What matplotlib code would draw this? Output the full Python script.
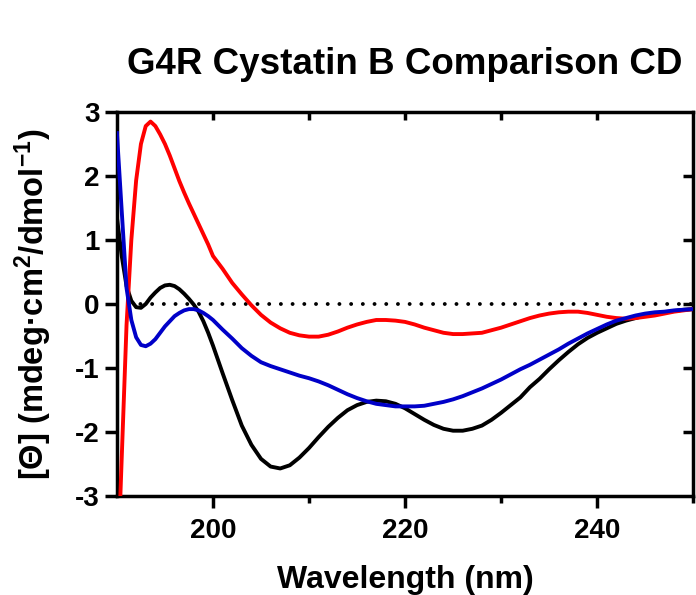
import numpy as np
import matplotlib
matplotlib.use("Agg")
import matplotlib.pyplot as plt

plt.rcParams['font.family'] = ['Liberation Sans', 'DejaVu Sans']
plt.rcParams['font.weight'] = 'bold'
plt.rcParams['axes.unicode_minus'] = False
plt.rcParams['mathtext.fontset'] = 'custom'
plt.rcParams['mathtext.rm'] = 'Liberation Sans:bold'
plt.rcParams['mathtext.bf'] = 'Liberation Sans:bold'
plt.rcParams['mathtext.default'] = 'rm'

# Wavelength grid (nm): half-nm steps in the far-UV, 1 nm afterwards
wavelength = [190.0, 190.5, 191.0, 191.5, 192.0, 192.5, 193.0, 193.5, 194.0, 194.5,
              195.0, 195.5, 196.0, 196.5, 197.0, 197.5, 198.0, 198.5, 199.0, 199.5,
              200, 201, 202, 203, 204, 205, 206, 207, 208, 209,
              210, 211, 212, 213, 214, 215, 216, 217, 218, 219,
              220, 221, 222, 223, 224, 225, 226, 227, 228, 229,
              230, 231, 232, 233, 234, 235, 236, 237, 238, 239,
              240, 241, 242, 243, 244, 245, 246, 247, 248, 249, 250]

ellip_red = [-4.5, -2.4, -0.33, 1.0, 1.93, 2.5, 2.78, 2.85, 2.78, 2.65,
             2.5, 2.32, 2.12, 1.92, 1.74, 1.57, 1.41, 1.25, 1.09, 0.93,
             0.75, 0.55, 0.33, 0.15, -0.02, -0.17, -0.29, -0.38, -0.45, -0.49,
             -0.51, -0.51, -0.48, -0.43, -0.37, -0.32, -0.28, -0.25, -0.25, -0.26,
             -0.28, -0.32, -0.37, -0.41, -0.45, -0.47, -0.47, -0.46, -0.45, -0.41,
             -0.37, -0.32, -0.27, -0.22, -0.18, -0.15, -0.13, -0.12, -0.12, -0.14,
             -0.17, -0.20, -0.22, -0.23, -0.22, -0.20, -0.18, -0.15, -0.12, -0.10, -0.08]

ellip_black = [1.35, 0.75, 0.28, 0.05, -0.05, -0.06, 0.0, 0.1, 0.18, 0.25,
               0.29, 0.30, 0.28, 0.23, 0.16, 0.08, -0.01, -0.12, -0.27, -0.45,
               -0.65, -1.08, -1.5, -1.9, -2.2, -2.42, -2.54, -2.57, -2.52, -2.4,
               -2.25, -2.08, -1.92, -1.78, -1.66, -1.58, -1.53, -1.51, -1.52, -1.56,
               -1.63, -1.72, -1.81, -1.89, -1.95, -1.98, -1.98, -1.95, -1.9, -1.81,
               -1.7, -1.58, -1.46, -1.3, -1.17, -1.02, -0.88, -0.75, -0.63, -0.53,
               -0.45, -0.38, -0.31, -0.26, -0.22, -0.18, -0.15, -0.13, -0.11, -0.09, -0.08]

ellip_blue = [2.67, 1.45, 0.25, -0.25, -0.52, -0.64, -0.66, -0.62, -0.55, -0.45,
              -0.35, -0.27, -0.19, -0.14, -0.10, -0.08, -0.08, -0.10, -0.14, -0.19,
              -0.25, -0.40, -0.54, -0.69, -0.81, -0.91, -0.97, -1.02, -1.07, -1.12,
              -1.16, -1.21, -1.27, -1.34, -1.41, -1.47, -1.52, -1.56, -1.58, -1.60,
              -1.60, -1.60, -1.59, -1.56, -1.53, -1.49, -1.44, -1.38, -1.32, -1.25,
              -1.18, -1.10, -1.02, -0.95, -0.87, -0.79, -0.71, -0.62, -0.54, -0.46,
              -0.39, -0.32, -0.26, -0.22, -0.18, -0.15, -0.13, -0.12, -0.10, -0.09, -0.08]

x_major = [200, 220, 240]
x_minor = [210, 230, 250]
y_ticks = [-3, -2, -1, 0, 1, 2, 3]

fig = plt.figure(figsize=(6.96, 5.95), dpi=100)
ax = fig.add_axes([0.168, 0.1664, 0.828, 0.6454])

lw = 2.8
ax.axhline(0, color='black', lw=2.8, dashes=(0.01, 3.0), dash_capstyle='round', zorder=1)
ax.plot(wavelength, ellip_black, color='black', lw=lw, zorder=2,
        solid_joinstyle='round')
ax.plot(wavelength, ellip_red, color='#ff0000', lw=lw, zorder=3,
        solid_joinstyle='round')
ax.plot(wavelength, ellip_blue, color='#0000c8', lw=lw, zorder=4,
        solid_joinstyle='round')

ax.set_xlim(190, 250)
ax.set_ylim(-3, 3)
ax.set_xticks(x_major)
ax.set_xticks(x_minor, minor=True)
ax.set_yticks(y_ticks)

for s in ax.spines.values():
    s.set_linewidth(2.5)

ax.tick_params(axis='x', which='major', direction='out', length=8.5, width=2.5,
               labelsize=20, pad=7)
ax.tick_params(axis='x', which='minor', direction='out', length=5, width=2.5)
ax.tick_params(axis='y', which='major', direction='out', length=8.5, width=2.5,
               labelsize=20, pad=4)
for lab in ax.get_xticklabels() + ax.get_yticklabels():
    lab.set_fontweight('bold')

# mirrored inward ticks on the top and right frame
top = ax.secondary_xaxis('top')
top.set_xticks([200, 210, 220, 230, 240])
top.tick_params(direction='in', length=6, width=2.5, labeltop=False)
right = ax.secondary_yaxis('right')
right.set_yticks([-2, -1, 0, 1, 2])
right.tick_params(direction='in', length=7, width=2.5, labelright=False)

ax.text(0.5, 1.099, 'G4R Cystatin B Comparison CD', transform=ax.transAxes,
        ha='center', va='baseline', fontsize=26.5, fontweight='bold')
ax.text(0.5, -0.2396, 'Wavelength (nm)', transform=ax.transAxes,
        ha='center', va='baseline', fontsize=23, fontweight='bold')
ax.set_ylabel('[Θ] (mdeg·cm$^{2}$/dmol$^{-1}$)', fontsize=23.5, fontweight='bold')
ax.yaxis.set_label_coords(-0.11, 0.5)

fig.savefig('out.png', dpi=100)
